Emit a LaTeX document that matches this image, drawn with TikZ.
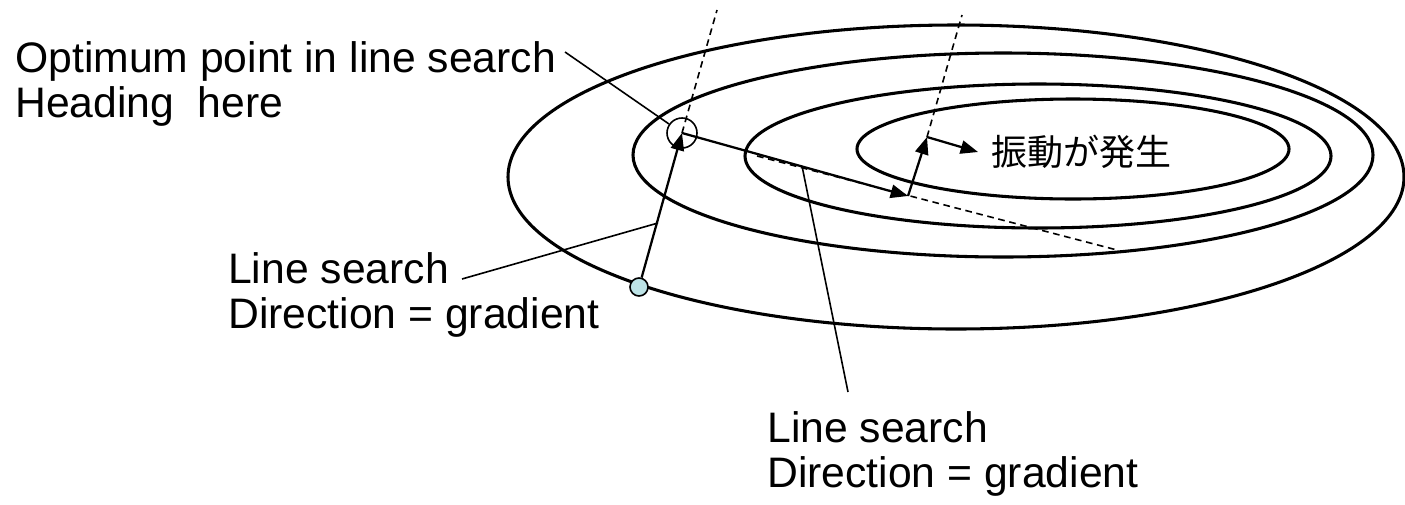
\documentclass[tikz,border=0pt]{standalone}
\usepackage{fontspec}
\setmainfont{Liberation Sans}
\newfontfamily\cjk{Noto Sans CJK JP}
\usepackage{tikz}
\usetikzlibrary{arrows.meta}
\definecolor{lsCyan}{HTML}{BDE3E6}
\tikzset{
  contour line/.style={draw=black,line width=2.3pt},
  search arrow/.style={-{Triangle[length=13pt,width=10pt]},line width=1.7pt},
  guide line/.style={dashed,dash pattern=on 5pt off 3.5pt,line width=1.2pt},
  leader line/.style={line width=1.2pt},
  label text/.style={font=\fontsize{32}{33.75}\selectfont,align=left,inner sep=0pt,anchor=base west},
  point mark/.style={circle,draw=black,line width=1.2pt,inner sep=0pt}
}

\begin{document}
\begin{tikzpicture}[x=0.75pt,y=-0.75pt]
\useasboundingbox (0,0) rectangle (1405,504);
% level curves
\draw[contour line] (956,177) ellipse [x radius=448,y radius=152];
\draw[contour line] (1003,155) ellipse [x radius=370,y radius=102];
\draw[contour line] (1038,156) ellipse [x radius=293,y radius=72];
\draw[contour line] (1073,149) ellipse [x radius=216,y radius=50];
% search points
\node[point mark,fill=lsCyan,minimum size=13.5pt] (start) at (639,287) {};
\node[point mark,minimum size=22.5pt] (opt) at (682,133) {};
\coordinate (hit) at (908,196);
\coordinate (turn) at (927,137);
\coordinate (grad one) at (717,10);
\coordinate (grad two) at (962,15);
\coordinate (tangent from) at (757,156);
\coordinate (tangent to) at (1117,250);
\node[font=\cjk\fontsize{27}{30}\selectfont,anchor=west,inner xsep=10pt,inner ysep=0pt] (osc) at (978,152) {振動が発生};
% dashed guides
\draw[guide line] (opt.center) -- (grad one);
\draw[guide line] (turn) -- (grad two);
\draw[guide line] (tangent from) -- (tangent to);
% search steps
\draw[search arrow] (start) -- (opt.center);
\draw[search arrow] (opt.center) -- (hit);
\draw[search arrow] (hit) -- (turn);
\draw[search arrow] (turn) -- (osc.west);
% labels (anchored on the baseline of their last line)
\node[label text] (topnote) at (15,117) {Optimum point in line search\\Heading\ \ here};
\node[label text] (leftnote) at (228,328) {Line search\\Direction = gradient};
\node[label text] (lownote) at (767,487) {Line search\\Direction = gradient};
\coordinate (topnote end) at (565,52);
\coordinate (leftnote end) at (462,279);
\coordinate (leftnote tip) at (658,223);
\coordinate (lownote end) at (848,392);
\coordinate (lownote tip) at (802,166);
\draw[leader line] (topnote end) -- (opt);
\draw[leader line] (leftnote end) -- (leftnote tip);
\draw[leader line] (lownote end) -- (lownote tip);
\end{tikzpicture}
\end{document}
